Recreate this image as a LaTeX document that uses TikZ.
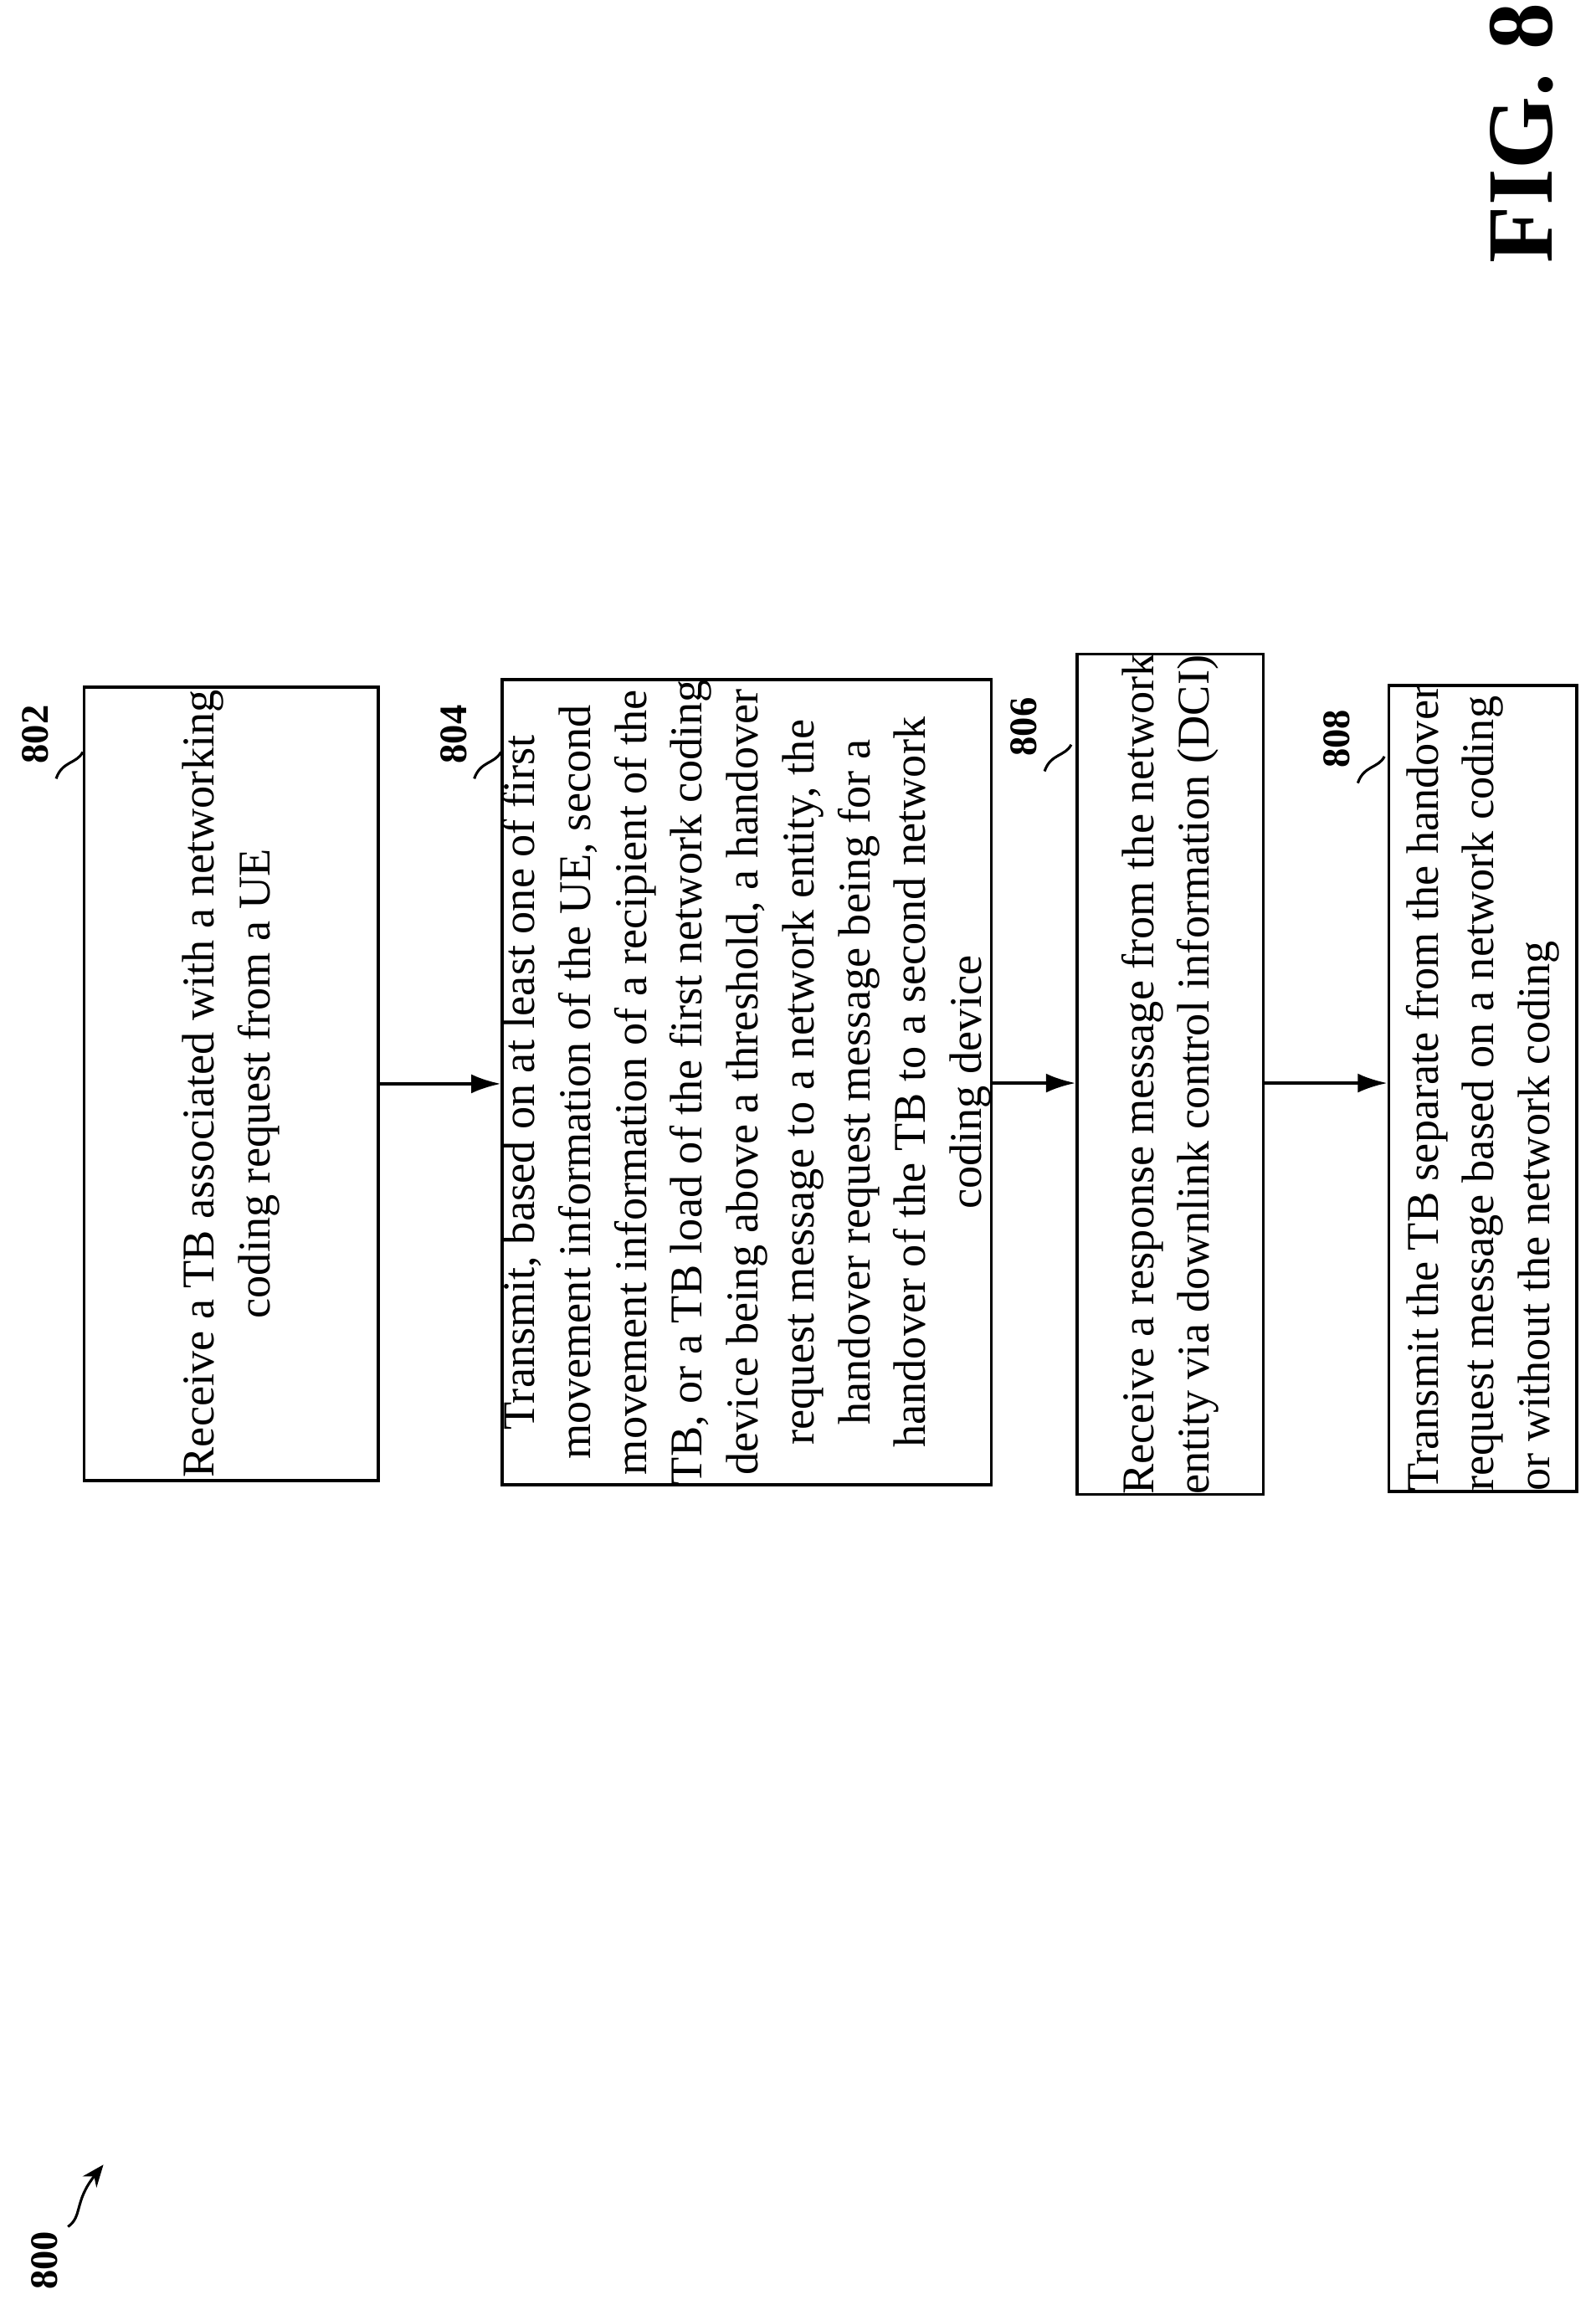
\documentclass[tikz,border=0pt]{standalone}
\usepackage{fontspec}
\setmainfont{Liberation Serif}
\usetikzlibrary{arrows.meta}
\begin{document}
\begin{tikzpicture}[x=0.2mm,y=-0.2mm,
	box/.style={draw,line width=1.2pt,rotate=90,inner sep=0pt,font=\fontsize{17.5}{21.5}\selectfont},
	lbl/.style={rotate=90,font=\bfseries\fontsize{15}{18}\selectfont},
	flow/.style={-{Latex[length=4mm,width=2.6mm]},line width=1.2pt},
	tilde/.style={line width=1pt}]
	\useasboundingbox (0,0) rectangle (1080,1560);
	
	\node[box,minimum width=107.4mm,minimum height=39.8mm,align=center] (b802) at (156.5,733.5)
	{Receive a TB associated with a networking\\coding request from a UE};
	\node[box,minimum width=107.8mm,minimum height=66.2mm,align=center] (b804) at (505.5,732.5)
	{Transmit, based on at least one of first\\movement information of the UE, second\\movement information of a recipient of the\\TB, or a TB load of the first network coding\\device being above a threshold, a handover\\request message to a network entity, the\\handover request message being for a\\handover of the TB to a second network\\coding device};
	\node[box,minimum width=107.6mm,minimum height=25.2mm,align=left] (b806) at (792,727)
	{Receive a response message from the network\\entity via downlink control information (DCI)};
	\node[box,minimum width=108.6mm,minimum height=25.4mm,align=left] (b808) at (1003.5,736.5)
	{Transmit the TB separate from the handover\\request message based on a network coding\\or without the network coding};
	
	\draw[flow] (b802.south) -- (b804.north |- b802.south);
	\draw[flow] (b804.south |- 0,733) -- (b806.north |- 0,733);
	\draw[flow] (b806.south |- 0,733) -- (b808.north |- 0,733);
	
	% step labels
	\node[lbl] (l802) at (24,497) {802};
	\node[lbl] (l804) at (307,497) {804};
	\node[lbl] (l806) at (693,492) {806};
	\node[lbl] (l808) at (905,500) {808};
	\draw[tilde] (l802.west) ++(14,4) .. controls +(4,-12) and +(-4,8) .. ++(18,-18);
	\draw[tilde] (l804.west) ++(14,4) .. controls +(4,-12) and +(-4,8) .. ++(18,-18);
	\draw[tilde] (l806.west) ++(14,4) .. controls +(4,-12) and +(-4,8) .. ++(18,-18);
	\draw[tilde] (l808.west) ++(14,4) .. controls +(4,-12) and +(-4,8) .. ++(18,-18);
	
	\node[lbl] (l800) at (30,1530) {800};
	\coordinate (p800) at (70,1465);
	\draw[tilde,-{Stealth[length=3mm,width=2.4mm]}] (46,1507) .. controls (56,1500) and (50,1490) .. (p800);
	
	\node[rotate=90,font=\bfseries\fontsize{36}{40}\selectfont] (fig) at (1030,90) {FIG. 8};
\end{tikzpicture}
\end{document}
